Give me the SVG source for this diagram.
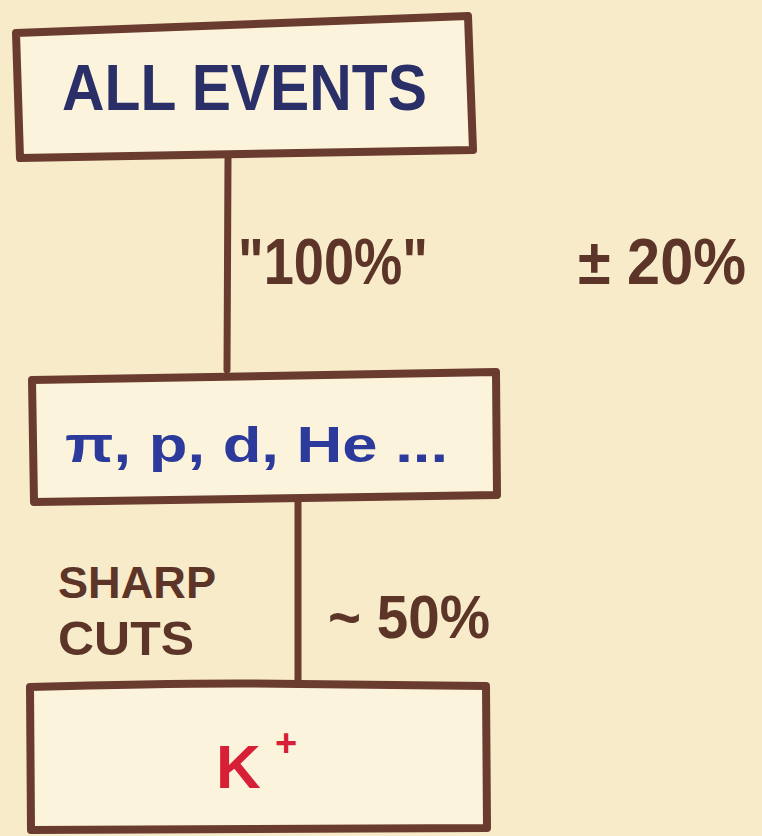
<svg xmlns="http://www.w3.org/2000/svg" width="762" height="836" viewBox="0 0 762 836">
<style>
.box{fill:#fbf3dc;stroke:#6a3b2f;stroke-width:8;stroke-linejoin:round}
.conn{stroke:#6a3b2f;stroke-width:7;fill:none;stroke-linecap:round}
.t{font-family:"Liberation Sans",Arial,sans-serif;font-weight:bold}
.brown{fill:#5c3428}
</style>
<rect x="0" y="0" width="762" height="836" fill="#f8ebc9"/>
<g id="connectors">
<path class="conn" d="M228,158 L227,370"/>
<path class="conn" d="M298,502 L298,684"/>
</g>
<g id="node-all-events">
<path class="box" d="M16,33 L468,16 L473,150 L20,158 Z"/>
<text class="t" x="62" y="110" font-size="64" fill="#2b2f68" textLength="365" lengthAdjust="spacingAndGlyphs">ALL EVENTS</text>
</g>
<g id="node-particles">
<path class="box" d="M32,380 L496,372 L497,495 L34,502 Z"/>
<text class="t" x="65" y="462" font-size="50" fill="#2c3a9c" textLength="383" lengthAdjust="spacingAndGlyphs">π, p, d, He ...</text>
</g>
<g id="node-kplus">
<path class="box" d="M30,687 Q200,682 300,684 L486,686 L487,828 L31,830 Z"/>
<text class="t" x="216" y="788" font-size="62" fill="#d81f38">K</text>
<text class="t" x="275" y="756" font-size="38" fill="#d81f38">+</text>
</g>
<g id="labels">
<text class="t brown" x="238" y="284" font-size="64" textLength="190" lengthAdjust="spacingAndGlyphs">"100%"</text>
<text class="t brown" x="578" y="284" font-size="64" textLength="168" lengthAdjust="spacingAndGlyphs">± 20%</text>
<text class="t brown" x="58" y="598" font-size="44" textLength="158" lengthAdjust="spacingAndGlyphs">SHARP</text>
<text class="t brown" x="58" y="655" font-size="48" textLength="136" lengthAdjust="spacingAndGlyphs">CUTS</text>
<text class="t brown" x="328" y="638" font-size="62" textLength="162" lengthAdjust="spacingAndGlyphs">~ 50%</text>
</g>
</svg>
